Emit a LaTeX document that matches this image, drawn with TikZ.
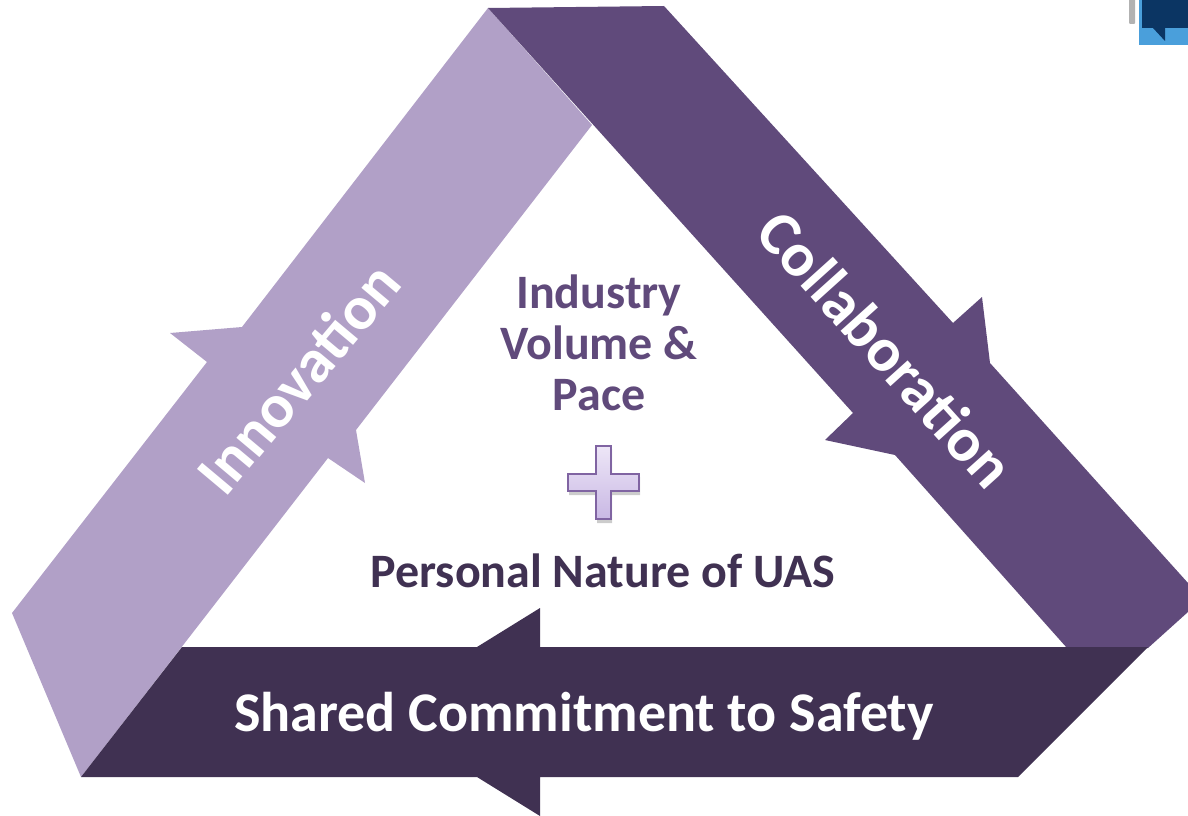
\documentclass[tikz,border=0pt]{standalone}
\usepackage{fontspec}
\setmainfont{Carlito}
\definecolor{lightpurple}{HTML}{B1A0C7}
\definecolor{midpurple}{HTML}{604A7B}
\definecolor{darkpurple}{HTML}{403152}
\definecolor{plusedge}{HTML}{8064A2}
\definecolor{plustop}{HTML}{EDE6F7}
\definecolor{plusbottom}{HTML}{C9B8E4}
\definecolor{iconblue}{HTML}{4A9FDB}
\definecolor{icondark}{HTML}{0B3563}

\begin{document}
\begin{tikzpicture}[x=1pt,y=-1pt,
    band label/.style={font=\fontsize{#1}{#1}\selectfont\bfseries,text=white,inner sep=0pt},
    mid label/.style={font=\fontsize{48}{51}\selectfont\bfseries,align=center,inner sep=0pt}]

  \useasboundingbox (0,0) rectangle (1188,816);

  % the three arrows
  \fill[lightpurple] (488,8) -- (592,125) -- (356,430) -- (365,483) -- (328,458)
    -- (81,777) -- (12,613) -- (207,362) -- (170,333) -- (242,327) -- cycle;
  \fill[midpurple] (488,8) -- (664,6) -- (953,323) -- (982,297) -- (990,363)
    -- (1188,583) -- (1188,612) -- (1148,648) -- (1067,648) -- (895,455)
    -- (825,440) -- (853,413) -- cycle;
  \fill[darkpurple] (81,777) -- (182,647) -- (477,647) -- (540,608) -- (540,647)
    -- (1148,647) -- (1018,777) -- (540,777) -- (540,816) -- (477,777) -- cycle;

  % plus sign
  \fill[black,opacity=0.2] (597,449) -- (612,449) -- (612,477) -- (640,477) -- (640,495)
    -- (612,495) -- (612,523) -- (597,523) -- (597,495) -- (569,495) -- (569,477) -- (597,477) -- cycle;
  \draw[plusedge,line width=1.5pt,top color=plustop,bottom color=plusbottom]
    (596,446) -- (611,446) -- (611,474) -- (639,474) -- (639,491) -- (611,491)
    -- (611,519) -- (596,519) -- (596,491) -- (568,491) -- (568,474) -- (596,474) -- cycle;

  % labels
  \node[band label=62,rotate=50] (innovation) at (298,378) {Innovation};
  \node[band label=62,rotate=-48] (collab) at (886,349) {Collaboration};
  \node[band label=56] (safety) at (584,716) {Shared Commitment to Safety};
  \node[mid label,text=midpurple] (volume) at (599,343) {Industry\\Volume \&\\Pace};
  \node[mid label,text=darkpurple] (personal) at (603,571) {Personal Nature of UAS};

  % corner of the slide
  \fill[black!30,rounded corners=1pt] (1129,-3) rectangle (1135,24);
  \fill[iconblue] (1139,0) rectangle (1188,45);
  \fill[icondark] (1142,0) -- (1188,0) -- (1188,28) -- (1165,28) -- (1165,41) -- (1153,28) -- (1142,28) -- cycle;
\end{tikzpicture}
\end{document}
